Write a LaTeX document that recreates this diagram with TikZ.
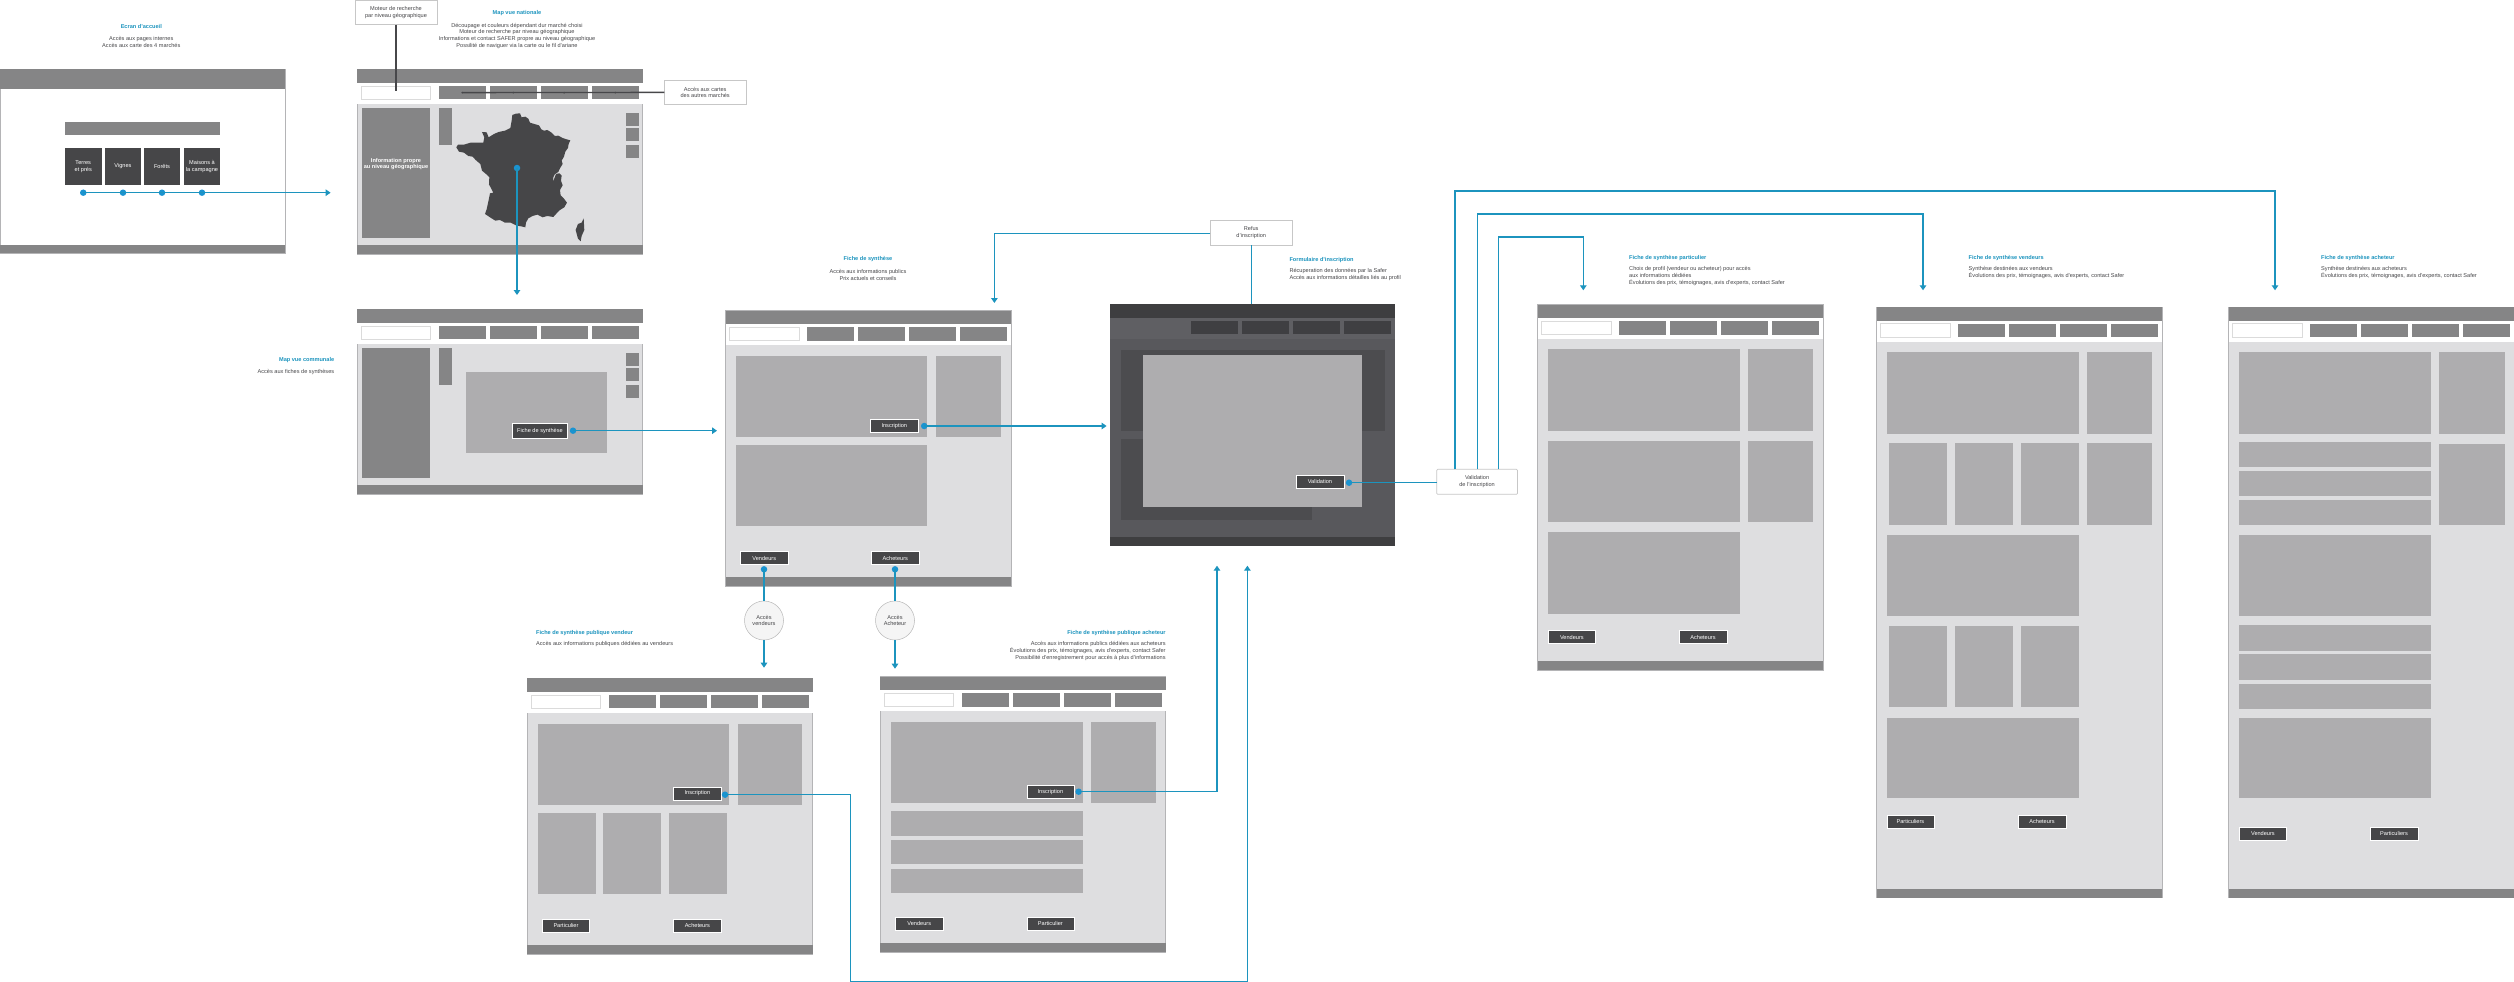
\documentclass[tikz,border=0pt]{standalone}
\usepackage{fontspec}
\setmainfont{Liberation Sans}
\usetikzlibrary{arrows.meta,shapes.geometric}
\definecolor{hdr}{HTML}{858586}
\definecolor{bodyg}{HTML}{DEDEE0}
\definecolor{panelg}{HTML}{AEADAF}
\definecolor{btn}{HTML}{464648}
\definecolor{edgeg}{HTML}{B4B4B6}
\definecolor{flowb}{HTML}{1C94BE}
\definecolor{dotb}{HTML}{1A93D1}
\definecolor{txt}{HTML}{47474A}
\definecolor{gbody}{HTML}{58585C}
\definecolor{ghead}{HTML}{3E3E40}
\definecolor{gband}{HTML}{5F5F63}
\definecolor{gtab}{HTML}{3F3F42}
\definecolor{gpanel}{HTML}{4C4C4F}
\tikzset{
 x=1pt,y=-1pt,
 rb/.style={rectangle,inner sep=0pt,outer sep=0pt},
 hdrbox/.style={rb,fill=hdr},
 tabbox/.style={rb,fill=hdr},
 bodybox/.style={rb,fill=bodyg,draw=edgeg,line width=.6pt},
 whitebox/.style={rb,fill=white},
 searchbox/.style={rb,fill=white,draw=black!14,line width=.7pt},
 panelbox/.style={rb,fill=panelg},
 btnbox/.style={rb,fill=btn,text=white,draw=white,line width=.5pt,font=\fontsize{5.6}{6.67}\selectfont},
 callout/.style={rb,fill=white,draw=black!22,line width=.7pt,text=txt,align=center,font=\fontsize{5.6}{6.67}\selectfont},
 titletext/.style={inner sep=0pt,text=flowb,font=\fontsize{5.6}{6.67}\selectfont\bfseries,align=center},
 desctext/.style={inner sep=0pt,text=txt,font=\fontsize{5.6}{6.67}\selectfont},
 bdot/.style={circle,fill=dotb,inner sep=0pt,minimum size=6.5pt},
 sdot/.style={circle,fill=txt,inner sep=0pt,minimum size=2pt},
 flow/.style={draw=flowb,line width=1.3pt},
 flowa/.style={flow,-{Triangle[length=5pt,width=6.5pt]}},
 darkline/.style={draw=txt,line width=1.3pt},
 bubble/.style={ellipse,fill=black!4,draw=black!28,line width=.5pt,inner sep=0pt,minimum width=39pt,minimum height=39pt,text=txt,align=center,font=\fontsize{5.6}{6.67}\selectfont},
}
% name, style, x1, y1, x2, y2, text
\newcommand{\wbox}[7]{%
 \pgfmathsetmacro{\bcx}{((#3)+(#5))/2}%
 \pgfmathsetmacro{\bcy}{((#4)+(#6))/2}%
 \pgfmathsetmacro{\bw}{(#5)-(#3)}%
 \pgfmathsetmacro{\bh}{(#6)-(#4)}%
 \node[#2,minimum width=\bw pt,minimum height=\bh pt] (#1) at (\bcx,\bcy) {#7};%
}
% prefix, x, y, h
\newcommand{\wframe}[4]{%
 \wbox{#1b}{bodybox}{#2}{#3}{#2+285.3}{#3+#4}{}%
 \wbox{#1h}{hdrbox}{#2}{#3}{#2+285.3}{#3+13.7}{}%
 \wbox{#1w}{whitebox}{#2}{#3+13.7}{#2+285.3}{#3+34.7}{}%
 \wbox{#1s}{searchbox}{#2+4}{#3+16.7}{#2+73.4}{#3+30}{}%
 \wbox{#1t1}{tabbox}{#2+81.5}{#3+16.7}{#2+128.5}{#3+30}{}%
 \wbox{#1t2}{tabbox}{#2+132.5}{#3+16.7}{#2+179.5}{#3+30}{}%
 \wbox{#1t3}{tabbox}{#2+183.3}{#3+16.7}{#2+230.3}{#3+30}{}%
 \wbox{#1t4}{tabbox}{#2+234.3}{#3+16.7}{#2+281.4}{#3+30}{}%
 \wbox{#1f}{hdrbox}{#2}{#3+#4-9}{#2+285.3}{#3+#4}{}%
}
% prefix, x, y : the map-page furniture
\newcommand{\mapparts}[3]{%
 \wbox{#1lp}{tabbox}{#2+4.4}{#3+38.7}{#2+73}{#3+168.7}{}%
 \wbox{#1sb}{tabbox}{#2+81.7}{#3+38.7}{#2+94.7}{#3+75.4}{}%
 \wbox{#1q1}{tabbox}{#2+268.7}{#3+43.7}{#2+281.7}{#3+56.7}{}%
 \wbox{#1q2}{tabbox}{#2+268.7}{#3+59}{#2+281.7}{#3+71.7}{}%
 \wbox{#1q3}{tabbox}{#2+268.7}{#3+75.4}{#2+281.7}{#3+88.4}{}%
}
\begin{document}
\begin{tikzpicture}
\useasboundingbox (0,0) rectangle (2514,982);
\fill[white] (0,0) rectangle (2514,982);

% ---------- Accueil
\wbox{ab}{bodybox,fill=white}{0}{69}{285.3}{253}{}
\wbox{ah}{hdrbox}{0}{69}{285.3}{89}{}
\wbox{af}{hdrbox}{0}{244.7}{285.3}{253}{}
\wbox{ag}{tabbox}{65}{122}{220}{135}{}
\wbox{a1}{btnbox,draw=none,align=center}{65}{148}{101.5}{184.7}{Terres\\et prés}
\wbox{a2}{btnbox,draw=none,align=center}{105}{148}{141}{184.7}{Vignes}
\wbox{a3}{btnbox,draw=none,align=center}{144}{148}{180}{184.7}{Forêts}
\wbox{a4}{btnbox,draw=none,align=center}{184}{148}{220}{184.7}{Maisons à\\la campagne}
\coordinate (aend) at (330.6,192.7);
\node[bdot] (ad1) at (a1.south |- aend) {};
\node[bdot] (ad2) at (a2.south |- aend) {};
\node[bdot] (ad3) at (a3.south |- aend) {};
\node[bdot] (ad4) at (a4.south |- aend) {};
\draw[flowa] (ad1.center) -- (aend);
\node[titletext] (tA) at (141.3,26) {Ecran d'accueil};
\node[desctext,align=center] (dA) at (141.3,42) {Accès aux pages internes\\Accès aux carte des 4 marchés};

% ---------- Map vue nationale
\wframe{B}{357.3}{69.3}{184.7}
\mapparts{B}{357.3}{69.3}
\node[text=white,font=\fontsize{5.6}{6.67}\selectfont\bfseries,align=center,inner sep=0pt] (Binfo) at (396,164) {Information propre\\au niveau géographique};
% France
\begin{scope}[shift={(340,0)},x=.3333pt,y=-.3333pt]
\fill[btn] (517,345)--(528,341)--(540,340)--(545,352)--(556,350)--(565,356)--(570,368)--(583,372)--(597,376)--(604,388)--(612,392)--(622,390)--(635,398)--(645,408)--(655,407)--(668,414)--(680,418)--(691,421)--(686,432)--(684,444)--(676,455)--(672,470)--(665,482)--(668,492)--(660,505)--(655,516)--(645,522)--(640,532)--(639,546)--(648,522)--(658,520)--(665,527)--(663,542)--(668,556)--(660,570)--(662,586)--(672,596)--(681,608)--(673,622)--(660,630)--(650,640)--(640,651)--(622,648)--(608,652)--(592,644)--(578,648)--(565,655)--(558,668)--(556,682)--(543,679)--(530,677)--(512,668)--(495,668)--(480,660)--(466,662)--(450,652)--(435,642)--(440,628)--(445,605)--(450,580)--(460,578)--(447,553)--(448,532)--(438,522)--(426,512)--(421,492)--(407,480)--(398,470)--(385,468)--(372,458)--(357,455)--(349,442)--(354,434)--(372,434)--(392,428)--(412,428)--(430,428)--(433,412)--(426,396)--(440,397)--(446,412)--(462,402)--(476,396)--(495,392)--(511,384)--(515,362)--cycle;
\fill[btn] (731,655)--(733,690)--(725,708)--(722,724)--(714,716)--(707,690)--(714,672)--(725,668)--cycle;
\end{scope}
\node[bdot] (fr) at (517,168) {};
\coordinate (fe) at (517,295);
\draw[flowa] (fr.center) -- (fe);
\node[callout,minimum width=81.7pt,minimum height=24.7pt] (moteur) at (396,12.35) {Moteur de recherche\\par niveau géographique};
\coordinate (mot) at (396,91);
\draw[darkline] (moteur.south) -- (mot);
\node[callout,minimum width=81.7pt,minimum height=24.7pt] (acces) at (705.2,92.35) {Accès aux cartes\\des autres marchés};
\draw[darkline] (acces.west) -- (Bt1.center);
\node[sdot] at (Bt1.center) {};
\node[sdot] at (Bt2.center) {};
\node[sdot] at (Bt3.center) {};
\node[sdot] at (Bt4.center) {};
\node[titletext] (tB) at (517,13.3) {Map vue nationale};
\node[desctext,align=center] (dB) at (517,35.7) {Découpage et couleurs dépendant dur marché choisi\\Moteur de recherche par niveau géographique\\Informations et contact SAFER propre au niveau géographique\\Possilité de naviguer via la carte ou le fil d'ariane};

% ---------- Map vue communale
\wframe{C}{357.3}{309.3}{184.7}
\mapparts{C}{357.3}{309.3}
\wbox{Cp}{panelbox}{466}{372}{607.3}{453.3}{}
\wbox{Cb}{btnbox}{512.4}{423.7}{567.5}{438.7}{Fiche de synthèse}
\node[bdot] (Cd) at (573,430.7) {};
\coordinate (Ce) at (717,430.7);
\draw[flowa] (Cd.center) -- (Ce);
\node[titletext,anchor=east] (tC) at (334.4,360) {Map vue communale};
\node[desctext,anchor=east] (dC) at (334.4,372.3) {Accès aux fiches de synthèses};

% ---------- Fiche de synthese
\wframe{D}{725.7}{310.7}{275.6}
\wbox{Dp1}{panelbox}{736}{356}{927}{437.3}{}
\wbox{Dp2}{panelbox}{936}{356}{1000.7}{437.3}{}
\wbox{Dp3}{panelbox}{736}{445}{927}{526}{}
\wbox{Dbi}{btnbox}{870.6}{419.3}{918}{432.3}{Inscription}
\wbox{Dbv}{btnbox}{740.5}{551.7}{788}{564.3}{Vendeurs}
\wbox{Dba}{btnbox}{871.6}{551.7}{919}{564.3}{Acheteurs}
\node[bdot] (Ddi) at (924.2,426) {};
\coordinate (Dei) at (1106.6,426);
\draw[flowa] (Ddi.center) -- (Dei);
\node[bdot] (Ddv) at (764,569.3) {};
\node[bdot] (Dda) at (895,569.3) {};
\node[bubble] (accv) at (764,620.5) {Accès\\vendeurs};
\node[bubble] (acca) at (895,620.5) {Accès\\Acheteur};
\draw[flow] (Ddv.center) -- (accv.north);
\draw[flow] (Dda.center) -- (acca.north);
\coordinate (Ev) at (764,667.7);
\coordinate (Ea) at (895,668.7);
\draw[flowa] (accv.south) -- (Ev);
\draw[flowa] (acca.south) -- (Ea);
\node[titletext] (tD) at (868,259) {Fiche de synthèse};
\node[desctext,align=center] (dD) at (868,275) {Accès aux informations publics\\Prix actuels et conseils};

% ---------- Formulaire
\wbox{Gb}{rb,fill=gbody}{1110}{304.3}{1395}{546}{}
\wbox{Gh}{rb,fill=ghead}{1110}{304.3}{1395}{318}{}
\wbox{Gw}{rb,fill=gband}{1110}{318}{1395}{339}{}
\wbox{Gt1}{rb,fill=gtab}{1191}{321.3}{1238}{334}{}
\wbox{Gt2}{rb,fill=gtab}{1242}{321.3}{1289}{334}{}
\wbox{Gt3}{rb,fill=gtab}{1293}{321.3}{1340}{334}{}
\wbox{Gt4}{rb,fill=gtab}{1344}{321.3}{1391}{334}{}
\wbox{Gp1}{rb,fill=gpanel}{1120.6}{350}{1385}{430.7}{}
\wbox{Gp2}{rb,fill=gpanel}{1120.6}{438.7}{1312}{520}{}
\wbox{Gf}{rb,fill=ghead}{1110}{537.3}{1395}{546}{}
\wbox{Gm}{panelbox}{1143}{355.3}{1362}{507}{}
\wbox{Gv}{btnbox}{1296}{475.3}{1344}{488.3}{Validation}
\node[bdot] (Gd) at (1349,482.7) {};
\node[callout,rounded corners=1pt,minimum width=80.8pt,minimum height=25pt] (valid) at (1477.1,481.8) {Validation\\de l'inscription};
\draw[flow] (valid.west |- Gd) -- (Gd.center);
\node[callout,minimum width=81.6pt,minimum height=24.7pt] (refus) at (1251.2,232.65) {Refus\\d'inscription};
\draw[flow] (refus.south) -- (refus.south |- Gb.north);
\coordinate (Rc) at (994.4,233.7);
\coordinate (Re) at (994.4,303);
\draw[flowa] (refus.west |- Rc) -- (Rc) -- (Re);
\node[titletext,anchor=west] (tG) at (1289.3,260) {Formulaire d'inscription};
\node[desctext,anchor=west,align=left] (dG) at (1289.3,274.3) {Récuperation des données par la Safer\\Accès aux informations détailles liés au profil};

% ---------- Publique vendeur
\wframe{E}{527.2}{678.3}{275.7}
\wbox{Ep1}{panelbox}{538}{724}{729}{805}{}
\wbox{Ep2}{panelbox}{737.5}{724}{802}{805}{}
\wbox{Ec1}{panelbox}{538}{812.7}{595.5}{893.7}{}
\wbox{Ec2}{panelbox}{603}{812.7}{661}{893.7}{}
\wbox{Ec3}{panelbox}{669}{812.7}{726.8}{893.7}{}
\wbox{Ebi}{btnbox}{673.7}{787}{721}{800}{Inscription}
\wbox{Ebp}{btnbox}{542.4}{919.3}{589.5}{932}{Particulier}
\wbox{Eba}{btnbox}{673.7}{919.3}{721}{932}{Acheteurs}
\node[titletext,anchor=west] (tE) at (536,633.3) {Fiche de synthèse publique vendeur};
\node[desctext,anchor=west] (dE) at (536,644.3) {Accès aux informations publiques dédiées au vendeurs};

% ---------- Publique acheteur
\wframe{F}{880.4}{676.7}{275.3}
\wbox{Fp1}{panelbox}{891}{722}{1082.6}{803}{}
\wbox{Fp2}{panelbox}{1091}{722}{1155.8}{803}{}
\wbox{Fs1}{panelbox}{891}{810.7}{1082.6}{835.7}{}
\wbox{Fs2}{panelbox}{891}{840}{1082.6}{864.3}{}
\wbox{Fs3}{panelbox}{891}{869}{1082.6}{893.3}{}
\wbox{Fbi}{btnbox}{1026.8}{785.3}{1074}{798}{Inscription}
\wbox{Fbv}{btnbox}{895.5}{917.3}{943}{930}{Vendeurs}
\wbox{Fbp}{btnbox}{1026.8}{917.3}{1074}{930}{Particulier}
\node[titletext,anchor=east] (tF) at (1165.8,633.3) {Fiche de synthèse publique acheteur};
\node[desctext,anchor=east,align=right] (dF) at (1165.8,651) {Accès aux informations publics dédiées aux acheteurs\\Évolutions des prix, témoignages, avis d'experts, contact Safer\\Possibilité d'enregistrement pour accès à plus d'informations};

% inscription loops
\node[bdot] (Edi) at (725,794.7) {};
\node[bdot] (Fdi) at (1078.6,791.7) {};
\coordinate (Fe) at (1217,565.7);
\coordinate (Ee) at (1247.4,565.7);
\coordinate (Ec) at (850.4,794.7);
\coordinate (Ed) at (850.4,981.3);
\coordinate (Ex) at (1247.4,981.3);
\draw[flowa] (Fdi.center) -| (Fe);
\draw[flowa] (Edi.center) -- (Ec) -- (Ed) -- (Ex) -- (Ee);

% ---------- Particulier
\wframe{H}{1537.5}{304.5}{365.5}
\wbox{Hp1}{panelbox}{1548}{349.4}{1740}{431}{}
\wbox{Hp2}{panelbox}{1747.7}{349.4}{1813}{431}{}
\wbox{Hp3}{panelbox}{1548}{440.8}{1740}{522.4}{}
\wbox{Hp4}{panelbox}{1747.7}{440.8}{1813}{522.4}{}
\wbox{Hp5}{panelbox}{1548}{532}{1740}{613.5}{}
\wbox{Hbv}{btnbox}{1548}{630.6}{1595.7}{643.7}{Vendeurs}
\wbox{Hba}{btnbox}{1679}{630.6}{1727}{643.7}{Acheteurs}
\node[titletext,anchor=west] (tH) at (1629,258) {Fiche de synthèse particulier};
\node[desctext,anchor=west,align=left] (dH) at (1629,276) {Choix de profil (vendeur ou acheteur) pour accès\\aux informations dédiées\\Évolutions des prix, témoignages, avis d'experts, contact Safer};

% ---------- Vendeurs
\wframe{I}{1876.5}{307}{590.5}
\wbox{Ip1}{panelbox}{1886.8}{351.8}{2079}{433.5}{}
\wbox{Ip2}{panelbox}{2087.3}{351.8}{2152}{433.5}{}
\wbox{Ic1}{panelbox}{1889.4}{443.3}{1947}{525}{}
\wbox{Ic2}{panelbox}{1955.4}{443.3}{2013}{525}{}
\wbox{Ic3}{panelbox}{2021.3}{443.3}{2079}{525}{}
\wbox{Ic4}{panelbox}{2087.3}{443.3}{2152}{525}{}
\wbox{Ip3}{panelbox}{1886.8}{534.7}{2079}{616}{}
\wbox{Id1}{panelbox}{1889.4}{626}{1947}{707}{}
\wbox{Id2}{panelbox}{1955.4}{626}{2013}{707}{}
\wbox{Id3}{panelbox}{2021.3}{626}{2079}{707}{}
\wbox{Ip4}{panelbox}{1886.8}{717.6}{2079}{798.4}{}
\wbox{Ibp}{btnbox}{1886.8}{815}{1934}{828}{Particuliers}
\wbox{Iba}{btnbox}{2018}{815}{2066}{828}{Acheteurs}
\node[titletext,anchor=west] (tI) at (1968.5,258.3) {Fiche de synthèse vendeurs};
\node[desctext,anchor=west,align=left] (dI) at (1968.5,272.6) {Synthèse destinées aux vendeurs\\Évolutions des prix, témoignages, avis d'experts, contact Safer};

% ---------- Acheteur
\wframe{J}{2228.7}{307}{590.5}
\wbox{Jp1}{panelbox}{2239.3}{351.8}{2430.8}{433.5}{}
\wbox{Jp2}{panelbox}{2439.2}{351.8}{2504.5}{433.5}{}
\wbox{Js1}{panelbox}{2239.3}{442}{2430.8}{467.3}{}
\wbox{Js2}{panelbox}{2239.3}{471}{2430.8}{496}{}
\wbox{Js3}{panelbox}{2239.3}{500}{2430.8}{525}{}
\wbox{Jp4}{panelbox}{2439.2}{443.7}{2504.5}{525}{}
\wbox{Jp3}{panelbox}{2239.3}{534.7}{2430.8}{616}{}
\wbox{Jt1}{panelbox}{2239.3}{625.3}{2430.8}{650.6}{}
\wbox{Jt2}{panelbox}{2239.3}{654.3}{2430.8}{679.6}{}
\wbox{Jt3}{panelbox}{2239.3}{683.7}{2430.8}{708.6}{}
\wbox{Jp5}{panelbox}{2239.3}{717.6}{2430.8}{798.4}{}
\wbox{Jbv}{btnbox}{2239.3}{827.3}{2286.5}{840.4}{Vendeurs}
\wbox{Jbp}{btnbox}{2370}{827.3}{2418}{840.4}{Particuliers}
\node[titletext,anchor=west] (tJ) at (2321,258.3) {Fiche de synthèse acheteur};
\node[desctext,anchor=west,align=left] (dJ) at (2321,272.6) {Synthèse destinées aux acheteurs\\Évolutions des prix, témoignages, avis d'experts, contact Safer};

% validation routes
\coordinate (v1) at (1455,469.3);
\coordinate (v2) at (1477.3,469.3);
\coordinate (v3) at (1498.7,469.3);
\coordinate (c1) at (2275,191);
\coordinate (c2) at (1923,214);
\coordinate (c3) at (1583.3,237);
\coordinate (e1) at (2275,290.3);
\coordinate (e2) at (1923,290.3);
\coordinate (e3) at (1583.3,290.3);
\draw[flowa] (v1) |- (c1) -- (e1);
\draw[flowa] (v2) |- (c2) -- (e2);
\draw[flowa] (v3) |- (c3) -- (e3);
\end{tikzpicture}
\end{document}
